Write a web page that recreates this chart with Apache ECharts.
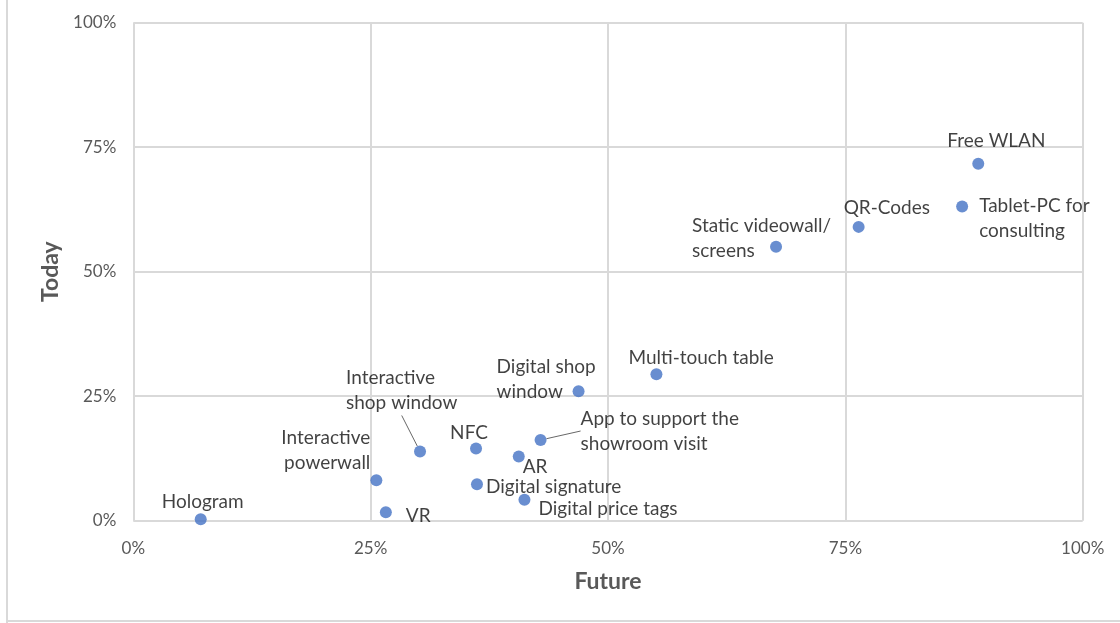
<!DOCTYPE html>
<html>
<head>
<meta charset="utf-8">
<script src="https://cdn.jsdelivr.net/npm/echarts@6/dist/echarts.min.js"></script>
<style>
  html, body { margin: 0; padding: 0; background: #fff; }
  #wrap { position: relative; width: 1120px; height: 623px; overflow: hidden; }
  #chart { position: absolute; left: 0; top: 0; width: 1120px; height: 623px; }
  #wrap::before { content: ""; position: absolute; left: 6px; top: 0; width: 2px; height: 623px; background: #d9d9d9; z-index: 2; }
  #wrap::after { content: ""; position: absolute; left: 6px; top: 620px; width: 1114px; height: 2px; background: #d9d9d9; z-index: 2; }
</style>
</head>
<body>
<div id="wrap"><div id="chart"></div></div>
<script>
// Digital showroom technologies: share of use today vs. planned in future
const technologies = [
  'Hologram', 'VR', 'Interactive\npowerwall', 'Interactive\nshop window', 'NFC', 'AR',
  'App to support the\nshowroom visit', 'Digital signature', 'Digital price tags',
  'Digital shop\nwindow', 'Multi-touch table', 'Static videowall/\nscreens', 'QR-Codes',
  'Tablet-PC for\nconsulting', 'Free WLAN'
];
const future = [7.1, 26.6, 25.6, 30.2, 36.1, 40.6, 42.9, 36.2, 41.2, 46.9, 55.1, 67.7, 76.4, 87.3, 89.0];
const today  = [0.3, 1.7, 8.1, 13.9, 14.5, 12.9, 16.2, 7.3, 4.2, 26.0, 29.4, 55.0, 59.0, 63.1, 71.7];
const tickLabels = ['0%', '25%', '50%', '75%', '100%'];

// Where each label sits relative to its dot: [dx, dy, align], plus whether a leader line is drawn
const labelPlacement = [
  [2, -17, 'center'], [20, 4, 'left'], [-6, -30, 'right'], [-74, -61, 'left', true],
  [-7, -16, 'center'], [4, 10, 'left'], [40, -9, 'left', true], [9, 3, 'left'],
  [14, 9, 'left'], [-82, -12, 'left'], [-28, -16, 'left'], [-84, -8, 'left'],
  [-15, -19, 'left'], [17, 12, 'left'], [-31, -23, 'left']
];

const points = technologies.map((name, i) => {
  const p = labelPlacement[i];
  const item = {
    name: name,
    value: [future[i], today[i]],
    label: { offset: [p[0], p[1]], align: p[2] }
  };
  if (p[3]) item.labelLine = { show: true };
  return item;
});

const tickText = v => tickLabels[Math.round(v / 25)];
const fontFam = 'Lato, "Open Sans", sans-serif';

const chart = echarts.init(document.getElementById('chart'), null, { renderer: 'canvas' });
chart.setOption({
  animation: false,
  backgroundColor: '#ffffff',
  grid: { left: 133.3, right: 37.3, top: 22.7, bottom: 102.3, containLabel: false },
  xAxis: {
    type: 'value', min: 0, max: 100, interval: 25,
    name: 'Future', nameLocation: 'middle', nameGap: 49,
    nameTextStyle: { color: '#595959', fontSize: 23, fontWeight: 'bold', fontFamily: fontFam },
    axisLine: { show: false }, axisTick: { show: false },
    axisLabel: { color: '#595959', fontSize: 17, fontFamily: fontFam, margin: 19, formatter: tickText },
    splitLine: { show: true, lineStyle: { color: '#d9d9d9', width: 2 } }
  },
  yAxis: {
    type: 'value', min: 0, max: 100, interval: 25,
    name: 'Today', nameLocation: 'middle', nameGap: 70, nameRotate: 90,
    nameTextStyle: { color: '#595959', fontSize: 23, fontWeight: 'bold', fontFamily: fontFam },
    axisLine: { show: false }, axisTick: { show: false },
    axisLabel: { color: '#595959', fontSize: 17, fontFamily: fontFam, margin: 17, formatter: tickText },
    splitLine: { show: true, lineStyle: { color: '#d9d9d9', width: 2 } }
  },
  series: [{
    type: 'scatter',
    symbol: 'circle',
    symbolSize: 12,
    itemStyle: { color: '#4472c4' },
    label: {
      show: true,
      position: 'inside',
      verticalAlign: 'middle',
      formatter: p => p.name,
      color: '#111111',
      fontSize: 19,
      lineHeight: 25,
      fontFamily: fontFam
    },
    labelLine: { show: false, lineStyle: { color: '#404040', width: 0.8 } },
    emphasis: { disabled: true },
    data: points
  }]
});
</script>
</body>
</html>
